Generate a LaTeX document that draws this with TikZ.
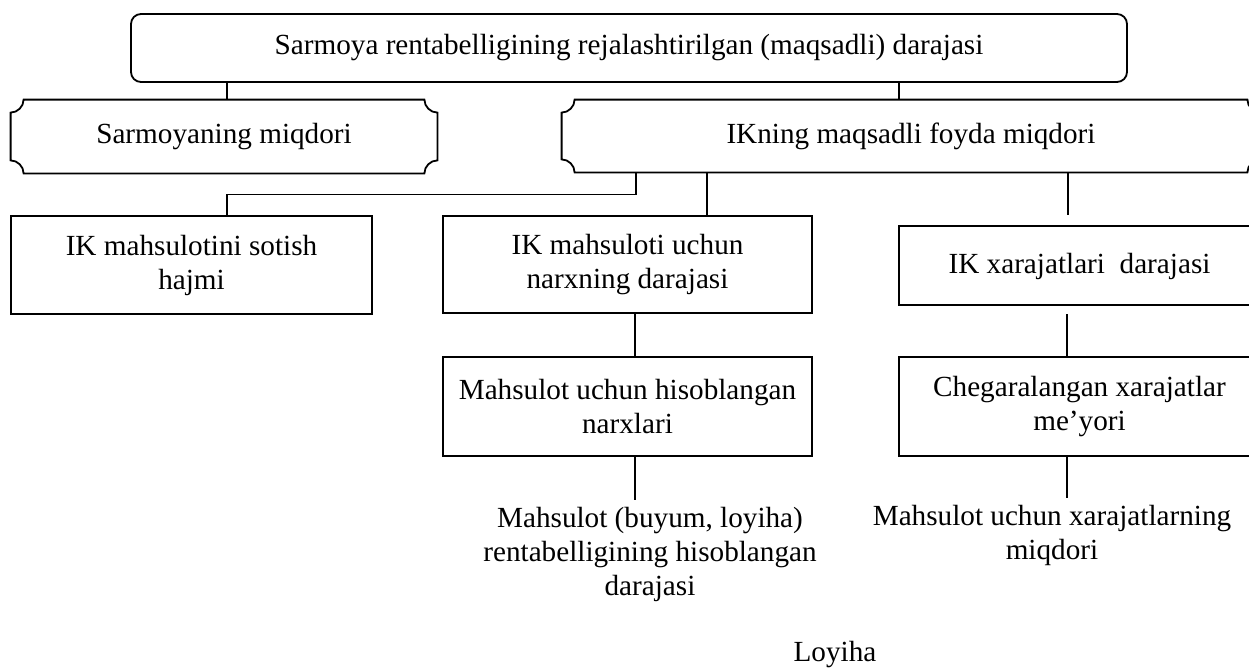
\documentclass[tikz,border=0pt]{standalone}
\usepackage{fontspec}
\setmainfont{Liberation Serif}
\usetikzlibrary{calc}
\begin{document}
% 1 unit = 0.5pt, y grows downward
\begin{tikzpicture}[x=0.5pt,y=-0.5pt,
  font=\fontsize{14.6}{17}\selectfont,
  boxline/.style={line width=0.9pt},
  link/.style={line width=0.75pt},
  block/.style={draw,boxline,rectangle,inner sep=0pt,align=center},
  roundblock/.style={block,rounded corners=5pt},
  plaquenode/.style={rectangle,inner sep=0pt,align=center},
  freetext/.style={align=center,inner sep=0pt}]
\useasboundingbox (0,0) rectangle (1249,669);
\clip (0,0) rectangle (1249,669);

% plaque outline with concave corners
\newcommand\plaqueoutline[1]{%
  \draw[boxline]
    ($(#1.north west)+(13,0)$) -- ($(#1.north east)+(-13,0)$)
    .. controls ($(#1.north east)+(-13,7)$) and ($(#1.north east)+(-7,13)$) .. ($(#1.north east)+(0,13)$)
    -- ($(#1.south east)+(0,-13)$)
    .. controls ($(#1.south east)+(-7,-13)$) and ($(#1.south east)+(-13,-7)$) .. ($(#1.south east)+(-13,0)$)
    -- ($(#1.south west)+(13,0)$)
    .. controls ($(#1.south west)+(13,-7)$) and ($(#1.south west)+(7,-13)$) .. ($(#1.south west)+(0,-13)$)
    -- ($(#1.north west)+(0,13)$)
    .. controls ($(#1.north west)+(7,13)$) and ($(#1.north west)+(13,7)$) .. cycle;}

% top level
\node[roundblock,minimum width=498pt,minimum height=34pt] (top) at (629,48)
  {Sarmoya rentabelligining rejalashtirilgan (maqsadli) darajasi};

% second level
\node[plaquenode,minimum width=213pt,minimum height=36.5pt] (inv) at (224,136.5)
  {Sarmoyaning miqdori};
\plaqueoutline{inv}
\node[plaquenode,minimum width=349pt,minimum height=36pt] (profit) at (911,136)
  {IKning maqsadli foyda miqdori};
\plaqueoutline{profit}

% third level
\node[block,minimum width=180.5pt,minimum height=49pt] (sales) at (191.5,265)
  {IK mahsulotini sotish\\hajmi};
\node[block,minimum width=184.5pt,minimum height=48.5pt] (price) at (627.5,264.5)
  {IK mahsuloti uchun\\narxning darajasi};
\node[block,minimum width=180.5pt,minimum height=39.5pt,text height=11pt,text depth=3.5pt] (cost) at (1079.5,265.5)
  {IK xarajatlari~~darajasi};

% fourth level
\node[block,minimum width=184.5pt,minimum height=49.5pt] (calcprice) at (627.5,406.5)
  {Mahsulot uchun hisoblangan\\narxlari};
\node[block,minimum width=180.5pt,minimum height=49.5pt] (limit) at (1079.5,406.5)
  {Chegaralangan xarajatlar\\me’yori};

% bottom texts
\node[freetext] (rent) at (650,554)
  {Mahsulot (buyum, loyiha)\\rentabelligining hisoblangan\\darajasi};
\node[freetext] (amount) at (1052,535)
  {Mahsulot uchun xarajatlarning\\miqdori};
\node[freetext] (loyiha) at (835,655) {Loyiha};

% connectors
\draw[link] ([xshift=1.5pt]inv.north) -- ([xshift=1.5pt]inv.north |- top.south);
\draw[link] ([xshift=-6pt]profit.north) -- ([xshift=-6pt]profit.north |- top.south);
\draw[link] ([xshift=-137.5pt]profit.south) -- ++(0,22) -| ([xshift=17.75pt]sales.north);
\draw[link] ([xshift=39.75pt]price.north) -- ([xshift=39.75pt]price.north |- profit.south);
\draw[link] ([xshift=-5.75pt]cost.north |- profit.south) -- ++(0,43);
\draw[link] ([xshift=3.75pt]price.south) -- ([xshift=3.75pt]calcprice.north);
\draw[link] ([xshift=-6.25pt]limit.north) -- ++(0,-42);
\draw[link] ([xshift=3.75pt]calcprice.south) -- ++(0,43);
\draw[link] ([xshift=-6.25pt]limit.south) -- ++(0,41);
\end{tikzpicture}
\end{document}
